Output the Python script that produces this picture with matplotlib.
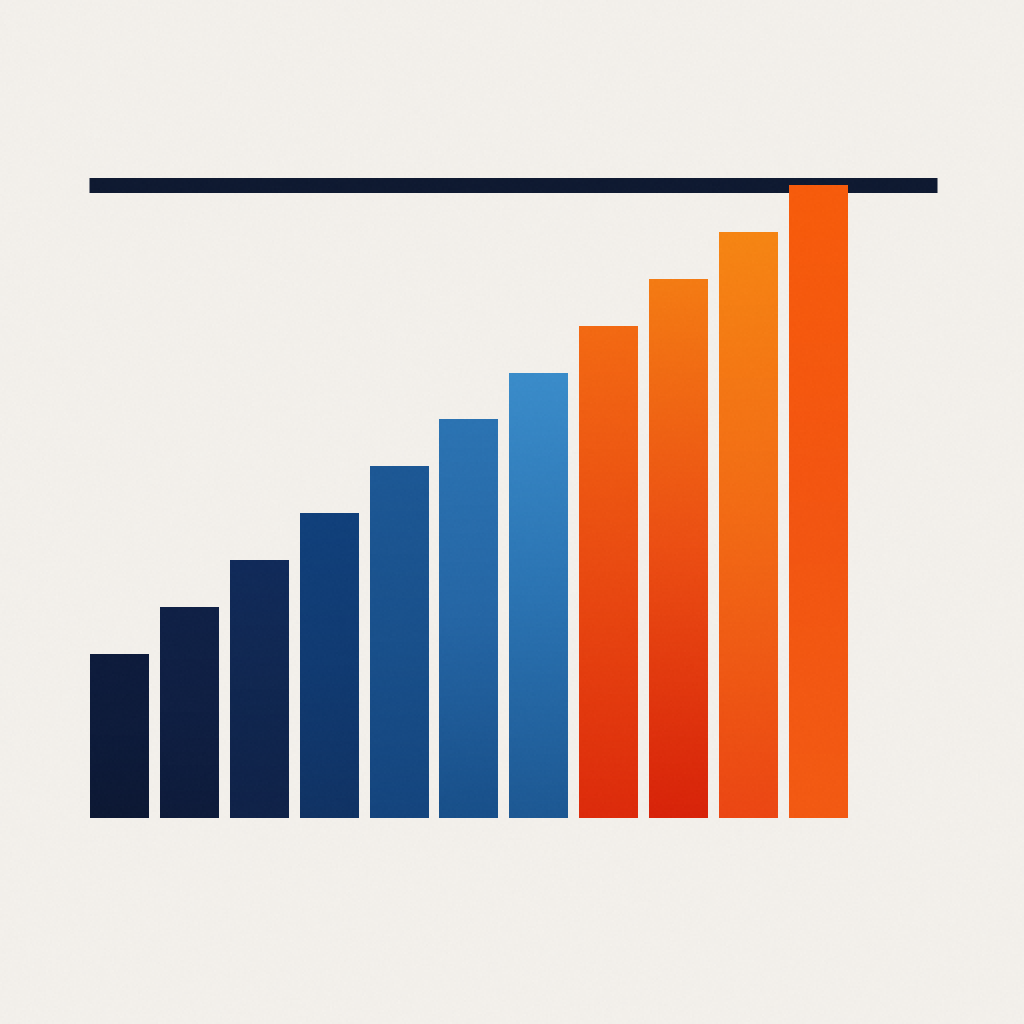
import numpy as np
import matplotlib
matplotlib.use("Agg")
import matplotlib.pyplot as plt
from matplotlib.colors import LinearSegmentedColormap

# Data
categories = list(range(1, 12))
values = [3.5, 4.5, 5.5, 6.5, 7.5, 8.5, 9.5, 10.5, 11.5, 12.5, 13.5]
target = 13.5
top_colors = ["#0d1b3c", "#0f2046", "#102a5a", "#10407c", "#1c5896", "#2b74b4", "#3a8dcc",
              "#f66a12", "#f77c12", "#f98612", "#fa5c0a"]
mid_colors = ["#0c1a3a", "#0e1e42", "#0f2650", "#0f3a72", "#18508c", "#2466a6", "#2a74b4",
              "#ec4a10", "#ee4e12", "#f56a14", "#f65510"]
bottom_colors = ["#0b1733", "#0c1a3a", "#0e2148", "#0f3264", "#13447e", "#174f8a", "#1c5894",
                 "#df2a0a", "#da2208", "#ee4612", "#f55a12"]
bg = "#f5f2ed"
line_color = "#0d1830"

# pixel mapping: bar centre 0 at x=119px, step 69.94px; baseline at 818px, 46.89px per unit
XL = (-119 / 69.94, (1024 - 119) / 69.94)
YL = (-206 / 46.89, 818 / 46.89)

fig = plt.figure(figsize=(10.24, 10.24), dpi=100, facecolor=bg)
ax = fig.add_axes([0, 0, 1, 1], facecolor=bg)
ax.axis("off")

x = np.arange(len(values))
width = 58.5 / 69.94
bars = ax.bar(x, values, width=width, color="none", edgecolor="none", zorder=3)

grad = np.linspace(0, 1, 256).reshape(-1, 1)
for i, (b, v) in enumerate(zip(bars, values)):
    cmap = LinearSegmentedColormap.from_list(
        f"g{i}", [bottom_colors[i], mid_colors[i], top_colors[i]])
    x0 = b.get_x()
    im = ax.imshow(grad, extent=[x0, x0 + width, 0, v], origin="lower",
                   cmap=cmap, aspect="auto", zorder=3, interpolation="bicubic")
    im.set_clip_path(b)

ax.axhline(target, xmin=89 / 1024, xmax=937 / 1024, color=line_color,
           linewidth=10.8, solid_capstyle="butt", zorder=2)

# subtle paper grain
rng = np.random.default_rng(0)
noise = rng.normal(0, 1, (512, 512))
ax.imshow(noise, extent=[XL[0], XL[1], YL[0], YL[1]], cmap="gray",
          alpha=0.02, aspect="auto", zorder=5, interpolation="nearest")
ax.set_xlim(*XL)
ax.set_ylim(*YL)

fig.savefig("out.png", dpi=100, facecolor=bg)
